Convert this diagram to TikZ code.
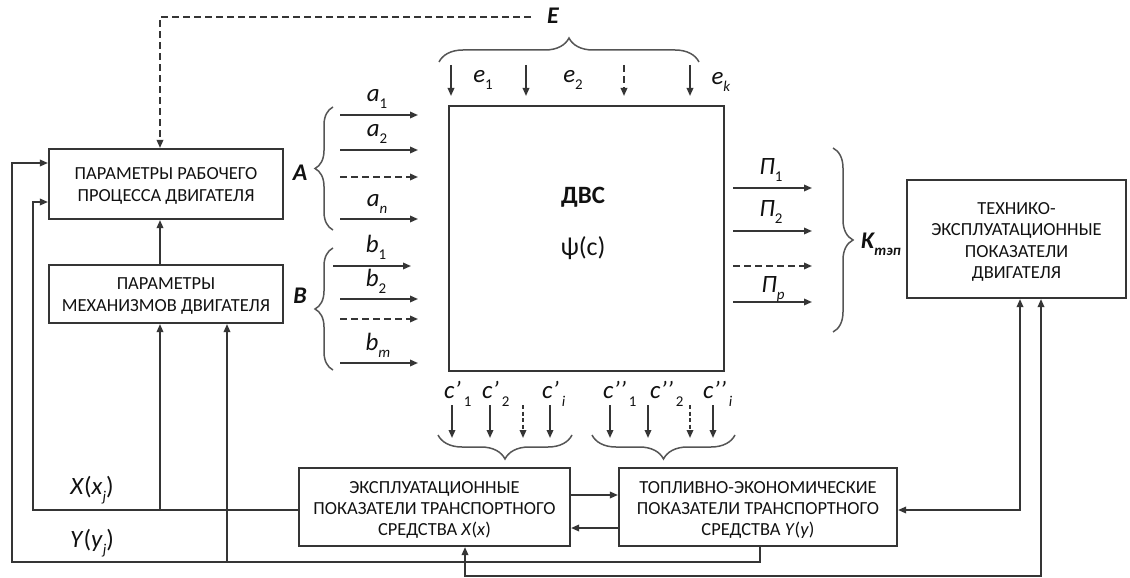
\documentclass[tikz,border=0pt]{standalone}
\usepackage{fontspec}
\setmainfont{Carlito}
\usetikzlibrary{arrows.meta,decorations.pathreplacing,calc}
\definecolor{lc}{HTML}{353535}
\definecolor{bc}{HTML}{555555}
\definecolor{tc}{HTML}{111111}
\newcommand\sublab[2]{\textit{#1}\raisebox{-0.6ex}{\fontsize{15}{15}\selectfont #2}}
\newcommand\csub[2]{\textit{c#1}\hspace{3bp}\raisebox{-0.7ex}{\fontsize{15}{15}\selectfont #2}}
\tikzset{
  ln/.style={draw=lc, line width=1.7bp},
  arr/.style={ln, -{Triangle[length=8bp,width=6.5bp]}},
  darr/.style={arr, dash pattern=on 7bp off 4bp},
  biarr/.style={ln, {Triangle[length=8bp,width=6.5bp]}-{Triangle[length=8bp,width=6.5bp]}},
  boxn/.style={draw=lc, line width=2.1bp, inner sep=0, rectangle},
  btext/.style={text=tc, align=center, font=\fontsize{18.5}{21.5}\selectfont, inner sep=0},
  lbl/.style={text=tc, font=\fontsize{25}{25}\selectfont, inner sep=0},
  big/.style={text=tc, font=\fontsize{24}{24}\selectfont\bfseries\itshape, inner sep=0},
  brc/.style={draw=bc, line width=1.5bp, decorate, decoration={brace, amplitude=#1}},
}
\begin{document}
\begin{tikzpicture}[x=1bp, y=-1bp]
\useasboundingbox (0,0) rectangle (1130,578);

% boxes
\node[boxn, minimum width=234bp, minimum height=70bp] (prp) at (166,184) {};
\node[btext] (prpt) at (166,186) {ПАРАМЕТРЫ РАБОЧЕГО\\ПРОЦЕССА ДВИГАТЕЛЯ};
\node[boxn, minimum width=234bp, minimum height=58bp] (mech) at (166,294) {};
\node[btext] (mecht) at (166,296) {ПАРАМЕТРЫ\\МЕХАНИЗМОВ ДВИГАТЕЛЯ};
\node[boxn, minimum width=275bp, minimum height=265bp] (dvs) at (586.5,238.5) {};
\node[text=tc, font=\fontsize{25}{25}\selectfont\bfseries, inner sep=0] (dvst) at (583,197) {ДВС};
\node[text=tc, font=\fontsize{26}{26}\selectfont, inner sep=0] (psit) at (583,248) {ψ(c)};
\node[boxn, minimum width=219bp, minimum height=118bp] (te) at (1016.5,239) {};
\node[btext] (tet) at (1016.5,242) {ТЕХНИКО-\\ЭКСПЛУАТАЦИОННЫЕ\\ПОКАЗАТЕЛИ\\ДВИГАТЕЛЯ};
\node[boxn, minimum width=271bp, minimum height=78bp] (xb) at (434.5,507) {};
\node[btext] (xbt) at (434.5,510) {ЭКСПЛУАТАЦИОННЫЕ\\ПОКАЗАТЕЛИ ТРАНСПОРТНОГО\\СРЕДСТВА \textit{X}(\textit{x})};
\node[boxn, minimum width=278bp, minimum height=78bp] (yb) at (758,507) {};
\node[btext] (ybt) at (758,510) {ТОПЛИВНО-ЭКОНОМИЧЕСКИЕ\\ПОКАЗАТЕЛИ ТРАНСПОРТНОГО\\СРЕДСТВА \textit{Y}(\textit{y})};

% labels
\node[big] (E) at (553,16) {E};
\node[big] (A) at (300,173) {A};
\node[big] (B) at (300,296) {B};
\node[big, anchor=west] (K) at (861,244) {K\raisebox{-0.6ex}{\fontsize{15}{15}\selectfont тэп}};

% dashed E line
\coordinate (eend) at (531,17);
\draw[darr] (eend) -- (160,17) -- (160,0 |- prp.north);

% MECH -> PRP
\draw[arr] (160,0 |- mech.north) -- (160,0 |- prp.south);

% A inputs
\draw[brc=18bp] (333,230) -- (333,107);
\foreach \y/\n in {115/a1,150/a2,219/an}{\coordinate (\n s) at (340,\y); \coordinate (\n e) at (418,\y); \draw[arr] (\n s) -- (\n e);}
\coordinate (ads) at (340,177); \coordinate (ade) at (418,177);
\draw[darr] (ads) -- (ade);
\node[lbl] (la1) at (377,99) {\sublab{a}{1}};
\node[lbl] (la2) at (377,134) {\sublab{a}{2}};
\node[lbl] (lan) at (377,204) {\sublab{a}{\textit{n}}};

% B inputs
\draw[brc=18bp] (333,370) -- (333,248);
\coordinate (b1s) at (333,266); \coordinate (b1e) at (411,266); \draw[arr] (b1s) -- (b1e);
\foreach \y/\n in {299/b2,363/bm}{\coordinate (\n s) at (340,\y); \coordinate (\n e) at (418,\y); \draw[arr] (\n s) -- (\n e);}
\coordinate (bds) at (340,319); \coordinate (bde) at (418,319);
\draw[darr] (bds) -- (bde);
\node[lbl] (lb1) at (376,247) {\sublab{b}{1}};
\node[lbl] (lb2) at (376,281) {\sublab{b}{2}};
\node[lbl] (lbm) at (378,345) {\sublab{b}{\textit{m}}};

% E inputs
\draw[brc=24bp] (439,62) -- (699,62);
\foreach \x/\n in {451/e1,526/e2,690/ek}{\coordinate (\n s) at (\x,65); \coordinate (\n e) at (\x,96); \draw[arr] (\n s) -- (\n e);}
\coordinate (eds) at (624,65); \coordinate (ede) at (624,96);
\draw[darr] (eds) -- (ede);
\node[lbl] (le1) at (483,80) {\sublab{e}{1}};
\node[lbl] (le2) at (573,80) {\sublab{e}{2}};
\node[lbl] (lek) at (721,82) {\sublab{e}{\textit{k}}};

% P outputs
\foreach \y/\n in {188/p1,231/p2,302/pp}{\coordinate (\n s) at (733,\y); \coordinate (\n e) at (812,\y); \draw[arr] (\n s) -- (\n e);}
\coordinate (pds) at (733,266); \coordinate (pde) at (812,266);
\draw[darr] (pds) -- (pde);
\node[lbl] (lp1) at (771,170) {\sublab{П}{1}};
\node[lbl] (lp2) at (771,212) {\sublab{П}{2}};
\node[lbl] (lpp) at (773,289) {\sublab{П}{\textit{p}}};
\draw[brc=20bp] (833,148) -- (833,332);

% c outputs
\foreach \x/\n in {452/c1,490/c2,550/ci,610/d1,648/d2,713/di}{\coordinate (\n s) at (\x,405); \coordinate (\n e) at (\x,438); \draw[arr] (\n s) -- (\n e);}
\coordinate (cds) at (523,405); \coordinate (cde) at (523,438); \draw[darr, dash pattern=on 4bp off 2.5bp] (cds) -- (cde);
\coordinate (dds) at (690,405); \coordinate (dde) at (690,438); \draw[darr, dash pattern=on 4bp off 2.5bp] (dds) -- (dde);
\node[lbl, anchor=west] (lc1) at (444,394) {\csub{’}{1}};
\node[lbl, anchor=west] (lc2) at (482,394) {\csub{’}{2}};
\node[lbl, anchor=west] (lci) at (542,394) {\csub{’}{\textit{i}}};
\node[lbl, anchor=west] (ld1) at (603,394) {\csub{’’}{1}};
\node[lbl, anchor=west] (ld2) at (650,394) {\csub{’’}{2}};
\node[lbl, anchor=west] (ldi) at (703,394) {\csub{’’}{\textit{i}}};
\draw[brc=24bp] (572,435) -- (438,435);
\draw[brc=24bp] (735,435) -- (592,435);

% X <-> Y
\draw[arr] (xb.east |- 0,495) -- (yb.west |- 0,495);
\draw[arr] (yb.west |- 0,528) -- (xb.east |- 0,528);

% X(x_j) line
\draw[arr] (xb.west |- 0,510) -- (33,510) -- (33,202) -- (prp.west |- 0,202);
\draw[arr] (160,510) -- (160,0 |- mech.south);
\node[lbl] (lx) at (92,490) {\textit{X}(\sublab{x}{\textit{j}})};

% Y(y_j) line
\draw[arr] (yb.south -| 760,0) -- (760,562) -- (12,562) -- (12,163) -- (prp.west |- 0,163);
\draw[arr] (227,562) -- (227,0 |- mech.south);
\node[lbl] (ly) at (92,543) {\textit{Y}(\sublab{y}{\textit{j}})};

% TE links
\draw[biarr] (1020,0 |- te.south) -- (1020,510) -- (yb.east |- 0,510);
\draw[biarr] (1041,0 |- te.south) -- (1041,576) -- (465,576) -- (465,0 |- xb.south);
\end{tikzpicture}
\end{document}
